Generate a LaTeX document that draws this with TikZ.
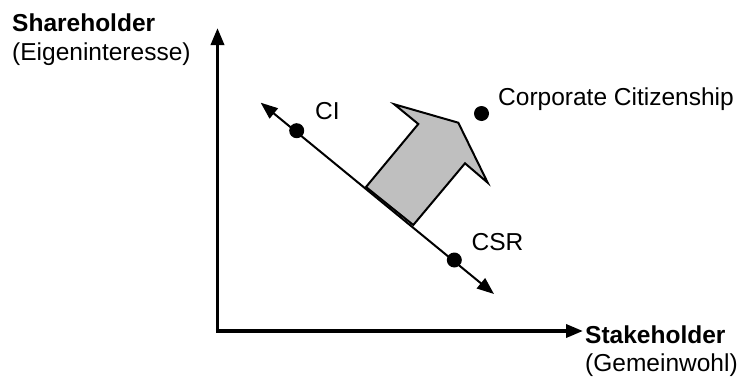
\documentclass[tikz,border=0pt]{standalone}
\usepackage{fontspec}
\setmainfont{Liberation Sans}
\usetikzlibrary{arrows.meta}
\begin{document}
\begin{tikzpicture}[x=1pt,y=-1pt,
  lbl/.style={anchor=base west,inner sep=0pt,font=\fontsize{24.5}{28}\selectfont},
  blbl/.style={lbl,font=\fontsize{24.5}{28}\selectfont\bfseries},
  dot/.style={circle,fill=black,inner sep=0pt,minimum size=15pt},
  axis/.style={line width=3.5pt,-{Triangle[length=17pt,width=13pt]}},
  diag/.style={line width=2pt,{Triangle[length=17pt,width=13pt]}-{Triangle[length=17pt,width=13pt]}},
  bigarrow/.style={draw=black,fill=black!25,line width=2pt,line join=miter}]
\useasboundingbox (0,0) rectangle (742,378);
% axes
\coordinate (O) at (217.5,331);
\coordinate (ytip) at (217.5,28);
\coordinate (xtip) at (583,331);
\draw[axis] ([yshift=1.75pt]O) -- (ytip);
\draw[axis] ([xshift=-1.75pt]O) -- (xtip);
% axis labels
\node[blbl] (sh) at (12,31) {Shareholder};
\node[lbl] (shs) at (12,60) {(Eigeninteresse)};
\node[blbl] (st) at (585,343) {Stakeholder};
\node[lbl] (sts) at (585,371) {(Gemeinwohl)};
% diagonal line
\coordinate (dtl) at (260.7,102.7);
\coordinate (dbr) at (494,294);
\draw[diag] (dtl) -- (dbr);
% big gray arrow
\draw[bigarrow] (366,187) -- (413.3,225) -- (465,163.3) -- (487.7,182.7)
  -- (458.3,122.7) -- (394.3,104.3) -- (418.3,124) -- cycle;
% dots
\node[dot] (ci) at (296.7,130.7) {};
\node[dot] (csr) at (454.3,260) {};
\node[dot] (cc) at (481.5,113.5) {};
% labels
\node[lbl] (cil) at (315,119) {CI};
\node[lbl] (csrl) at (471.5,250) {CSR};
\node[lbl] (ccl) at (498,105) {Corporate Citizenship};
\end{tikzpicture}
\end{document}
